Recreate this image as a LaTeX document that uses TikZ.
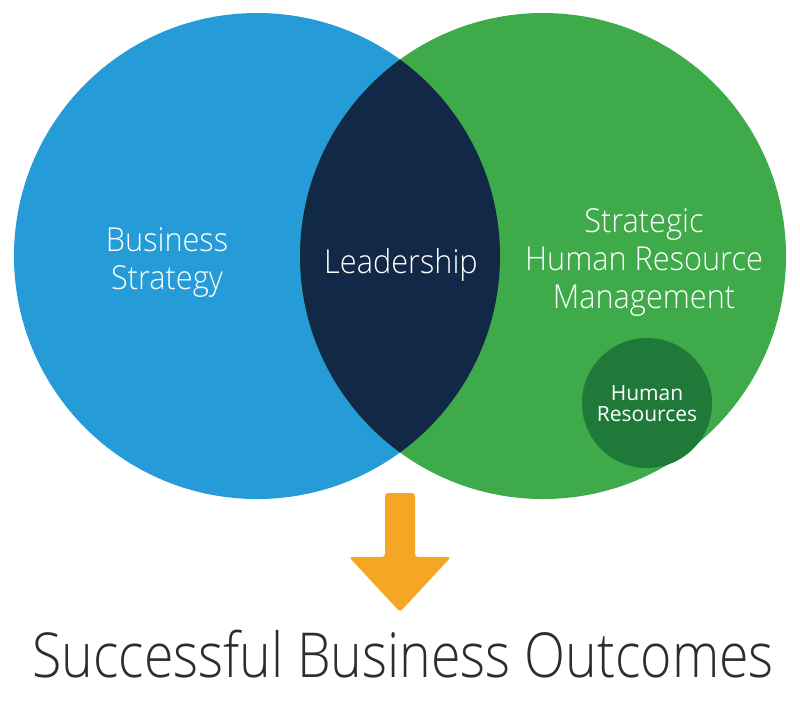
\documentclass[tikz,border=0pt]{standalone}
\usepackage{fontspec}
\usepackage{tikz}
\usetikzlibrary{calc}
\newfontfamily\lightfont[FakeStretch=0.93]{Open Sans Light}
\newfontfamily\titlefont[FakeStretch=0.865]{Open Sans Light}
\newfontfamily\regfont{Open Sans}
\definecolor{bizblue}{RGB}{37,156,215}
\definecolor{hrmgreen}{RGB}{62,170,74}
\definecolor{leadnavy}{RGB}{17,40,71}
\definecolor{hrgreen}{RGB}{31,122,58}
\definecolor{arroworange}{RGB}{245,166,35}
\definecolor{titlegray}{RGB}{45,45,45}
\def\setlabel{\node[text=white,align=center,inner sep=0pt,font=\lightfont\fontsize{33}{38}\selectfont]}
\def\hrlabel{\node[text=white,align=center,inner sep=0pt,font=\regfont\fontsize{21}{21}\selectfont]}

\begin{document}
\begin{tikzpicture}[x=1pt,y=-1pt]
\useasboundingbox (0,0) rectangle (800,705);
\coordinate (mid) at (400,256); % centre of the lens, everything hangs off this
\coordinate (bs) at ($ (mid) - (143,0) $); % business strategy centre
\coordinate (shrm) at ($ (mid) + (143,0) $); % strategic HRM centre
\coordinate (hr) at ($ (shrm) + (104,147) $); % small HR circle

% ---------- the two sets
\fill[bizblue] (bs) circle (243pt);
\fill[hrmgreen] (shrm) circle (243pt);
\begin{scope}
\clip (bs) circle (243pt);
\fill[leadnavy] (shrm) circle (243pt); % overlap
\end{scope}
\fill[hrgreen] (hr) circle (65pt);

% ---------- labels
\setlabel (bslabel) at ($ (bs) + (-90,6) $) {Business\\Strategy};
\setlabel[anchor=base] (leadlabel) at ($ (mid) + (1,17) $) {Leadership};
\setlabel (shrmlabel) at ($ (shrm) + (101,6) $) {Strategic\\Human Resource\\Management};
\hrlabel (hrlabel) at ($ (hr) + (0,1) $) {Human\\Resources};

% ---------- arrow down to the outcome
\coordinate (shaft_top) at ($ (mid) + (0,237) $);
\coordinate (tip) at ($ (mid) + (0,356) $);
\fill[arroworange,rounded corners=3pt] ($ (shaft_top) + (-15,0) $) -- ($ (shaft_top) + (15,0) $)
  -- ($ (shaft_top) + (15,64) $) -- ($ (shaft_top) + (51,64) $) -- (tip)
  -- ($ (shaft_top) + (-51,64) $) -- ($ (shaft_top) + (-15,64) $) -- cycle;

\node[anchor=base,inner sep=0pt,text=titlegray,font=\titlefont\fontsize{62}{62}\selectfont]
  (outcome) at (403,677) {Successful Business Outcomes};
\end{tikzpicture}
\end{document}
